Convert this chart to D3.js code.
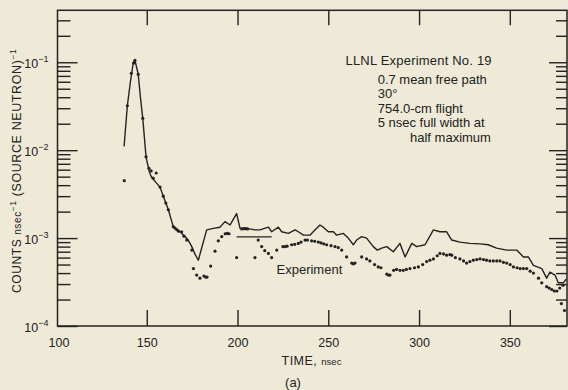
<!DOCTYPE html>
<html>
<head>
<meta charset="utf-8">
<script src="https://cdn.jsdelivr.net/npm/d3@7"></script>
<style>
  html, body { margin: 0; padding: 0; background: #efead7; }
  svg { display: block; }
  text { font-family: "Liberation Sans", Arial, Helvetica, sans-serif; fill: #222; }
</style>
</head>
<body>
<svg id="chart" width="568" height="390"></svg>
<script>
// ---------------- data ----------------
const xTicks = [150, 200, 250, 300, 350];
const yDecades = [1e-4, 1e-3, 1e-2, 1e-1];
const yDecadeExp = ["−4", "−3", "−2", "−1"];

// calculation (solid line)
const calcTime = [137.5, 139.3, 141, 142.6, 143.5, 145.3, 146.5, 147.8, 149.6, 151.4, 152.5, 155, 157.3, 159.1, 161.9, 164.6, 166.5, 168.3, 171.1, 172.8, 174.8, 176.5, 178.4, 183, 186.7, 190.3, 193.1, 195.9, 199.5, 201.4, 205, 209.6, 212.4, 217, 218.8, 222.5, 224.3, 228, 231.7, 233.5, 236.3, 239.9, 241.7, 245.4, 247.2, 250, 252.8, 254.6, 258.3, 261, 263.8, 265.6, 268.4, 271.1, 274.8, 277, 279.4, 282.2, 285.8, 289.5, 292.3, 296, 298.7, 303.3, 307.9, 311.5, 315.2, 318, 322.5, 328, 333.6, 338.1, 342.7, 348.3, 353.8, 357.5, 360.2, 363, 367.6, 370.3, 372.1, 374.9, 376.7, 379.5, 381];
const calcCounts = [0.011, 0.032, 0.06, 0.10, 0.105, 0.073, 0.04, 0.023, 0.0084, 0.0057, 0.0050, 0.0043, 0.0038, 0.0030, 0.0021, 0.00135, 0.00125, 0.00118, 0.00104, 0.00095, 0.0008, 0.00066, 0.00056, 0.00124, 0.00129, 0.00133, 0.00154, 0.00141, 0.0019, 0.00129, 0.00129, 0.00124, 0.00124, 0.00133, 0.00118, 0.00133, 0.00118, 0.00113, 0.00124, 0.00118, 0.00108, 0.00108, 0.00118, 0.00141, 0.00133, 0.00118, 0.00118, 0.00108, 0.00113, 0.001, 0.00084, 0.00095, 0.00104, 0.001, 0.0008, 0.00073, 0.00077, 0.0008, 0.0007, 0.00087, 0.00061, 0.00087, 0.0008, 0.00084, 0.00124, 0.00118, 0.00118, 0.00095, 0.0009, 0.00087, 0.00086, 0.00084, 0.00077, 0.00073, 0.00073, 0.00061, 0.00061, 0.00049, 0.00045, 0.00035, 0.00041, 0.00038, 0.00031, 0.00031, 0.00034];

// short horizontal segment
const segTime = [199.5, 218.8];
const segCounts = [0.00103, 0.00103];

// experiment (dots)
const expTime = [137.6, 139.3, 141.5, 142.8, 143.5, 145.3, 147.8, 149.6, 151.2, 152.4, 153.5, 155.2, 157.3, 159.1, 160.5, 161.9, 164.6, 165.5, 166.5, 167.5, 169.2, 170.5, 172.0, 174.8, 175.7, 177.5, 179.3, 181.5, 182.5, 183.2, 185.2, 187.6, 189.4, 191.3, 193.2, 194.3, 195.3, 199.5, 202.3, 203.5, 204.5, 205.5, 209.6, 211.4, 213.3, 215, 217, 218.8, 221.6, 225, 226.2, 227.3, 229.8, 231.5, 233.5, 235, 237.2, 238.5, 240.8, 242.5, 244.5, 246, 247.5, 249.1, 251.5, 253.7, 255.5, 257.4, 260.1, 262.9, 263.8, 264.7, 268.4, 271.1, 272.9, 275.5, 277.5, 279, 282.2, 283.2, 284, 286, 287.6, 289.5, 291.3, 293, 295, 297.5, 299.6, 302, 304.2, 306, 307.9, 310, 311.5, 313.5, 315.2, 317, 318, 320, 322.5, 324.5, 326.2, 328, 329.9, 331.8, 333.6, 335.5, 337.2, 339, 340.9, 342.8, 344.6, 346.5, 348.3, 350.2, 352, 354, 355.7, 357.5, 359.3, 361.2, 363, 365.8, 367.6, 370.3, 371.7, 373.1, 374.5, 375.9, 377.5, 378.4, 379.3, 380.1];
const expCounts = [0.0045, 0.032, 0.075, 0.098, 0.105, 0.073, 0.023, 0.0084, 0.0062, 0.0058, 0.0048, 0.0055, 0.0038, 0.0030, 0.0025, 0.0021, 0.00135, 0.0013, 0.00125, 0.0012, 0.00118, 0.00105, 0.00095, 0.00073, 0.00045, 0.00038, 0.00035, 0.00037, 0.00036, 0.00036, 0.00048, 0.00071, 0.00093, 0.00104, 0.00112, 0.00113, 0.00112, 0.0006, 0.00127, 0.00128, 0.00128, 0.00127, 0.0006, 0.00095, 0.0008, 0.00072, 0.00067, 0.0006, 0.00073, 0.0008, 0.0008, 0.00081, 0.00084, 0.00085, 0.00087, 0.0009, 0.00095, 0.00095, 0.00093, 0.00092, 0.0009, 0.00088, 0.00086, 0.00084, 0.00082, 0.0008, 0.00078, 0.00073, 0.00061, 0.00052, 0.00051, 0.00052, 0.00061, 0.00058, 0.00055, 0.0005, 0.00047, 0.00046, 0.00039, 0.00038, 0.00038, 0.00043, 0.00044, 0.00043, 0.00043, 0.00044, 0.00045, 0.00046, 0.00047, 0.0005, 0.00054, 0.00056, 0.00058, 0.00063, 0.00067, 0.00066, 0.00064, 0.00065, 0.00064, 0.0006, 0.00058, 0.00055, 0.00052, 0.00054, 0.00056, 0.00057, 0.00058, 0.00057, 0.00056, 0.00055, 0.00055, 0.00055, 0.00055, 0.00053, 0.00052, 0.0005, 0.00047, 0.00046, 0.00045, 0.00045, 0.00045, 0.00042, 0.0004, 0.00035, 0.00031, 0.00028, 0.00027, 0.00026, 0.00025, 0.00025, 0.00027, 0.00018, 0.00029, 0.00015];

const annoTitle = "LLNL Experiment No. 19";
const annoLines = ["0.7 mean free path", "30°", "754.0-cm flight", "5 nsec full width at"];
const annoLast = "half maximum";

// ---------------- chart ----------------
const ink = "#222";
const svg = d3.select("#chart");
svg.append("rect").attr("width", 568).attr("height", 390).attr("fill", "#efead7");

const L = 57.5, R = 567, T = 10.3, B = 326;
const x = d3.scaleLinear().domain([100, 381.5]).range([56, 567]);
const y = d3.scaleLog().domain([1e-4, 0.39]).range([B, T]);

const minors = [];
yDecades.forEach(d => { for (let k = 2; k <= 9; k++) { const v = d * k; if (v <= 0.39) minors.push(v); } });

function styleAxis(g) {
  g.select(".domain").remove();
  g.selectAll(".tick line").attr("stroke", ink).attr("stroke-width", 1.4);
  g.selectAll(".tick text").attr("fill", ink).attr("font-family", "Liberation Sans, Arial, sans-serif");
}

// bottom axis
svg.append("g").attr("transform", `translate(0,${B})`)
  .call(d3.axisBottom(x).tickValues(xTicks).tickSizeInner(-16).tickSizeOuter(0).tickPadding(12).tickFormat(d3.format("d")))
  .call(styleAxis)
  .call(g => g.selectAll(".tick text").attr("font-size", 12.5));
svg.append("text").attr("x", x(100) + 3).attr("y", 346.5).attr("text-anchor", "middle")
  .attr("font-size", 12.5).text("100");

// top axis
svg.append("g").attr("transform", `translate(0,${T})`)
  .call(d3.axisTop(x).tickValues(xTicks).tickSizeInner(-15).tickSizeOuter(0).tickFormat(""))
  .call(styleAxis);

// left axis
svg.append("g").attr("transform", `translate(${L},0)`)
  .call(d3.axisLeft(y).tickValues(yDecades).tickSizeInner(-20).tickSizeOuter(0).tickFormat(""))
  .call(styleAxis);
svg.append("g").attr("transform", `translate(${L},0)`)
  .call(d3.axisLeft(y).tickValues(minors).tickSizeInner(-13).tickSizeOuter(0).tickFormat(""))
  .call(styleAxis);

// right axis
svg.append("g").attr("transform", `translate(${R},0)`)
  .call(d3.axisRight(y).tickValues(yDecades).tickSizeInner(-18).tickSizeOuter(0).tickFormat(""))
  .call(styleAxis);
svg.append("g").attr("transform", `translate(${R},0)`)
  .call(d3.axisRight(y).tickValues(minors).tickSizeInner(-11).tickSizeOuter(0).tickFormat(""))
  .call(styleAxis);

// frame
svg.append("rect").attr("x", L).attr("y", T).attr("width", R - L).attr("height", B - T)
  .attr("fill", "none").attr("stroke", ink).attr("stroke-width", 1.5);

// y tick labels
yDecades.forEach((d, i) => {
  const t = svg.append("text").attr("x", 48.5).attr("y", y(d) + 6).attr("text-anchor", "end");
  t.append("tspan").attr("font-size", 12.5).text("10");
  t.append("tspan").attr("font-size", 9).attr("dy", -6).text(yDecadeExp[i]);
});

// axis titles
const xt = svg.append("text").attr("x", 281.5).attr("y", 364.5);
xt.append("tspan").attr("font-size", 12.5).attr("letter-spacing", 0.5).text("TIME, ");
xt.append("tspan").attr("font-size", 9.5).text("nsec");
svg.append("text").attr("x", 293).attr("y", 387).attr("text-anchor", "middle").attr("font-size", 13).text("(a)");

const yt = svg.append("text").attr("transform", "translate(20.5,293) rotate(-90)").attr("letter-spacing", 0.6);
yt.append("tspan").attr("font-size", 12).text("COUNTS ");
yt.append("tspan").attr("font-size", 10).text("nsec");
yt.append("tspan").attr("font-size", 8.5).attr("dy", -5).text("−1");
yt.append("tspan").attr("font-size", 12.5).attr("dy", 5).text(" (SOURCE NEUTRON)");
yt.append("tspan").attr("font-size", 8.5).attr("dy", -5).text("−1");

// data
const calc = calcTime.map((t, i) => [t, calcCounts[i]]);
const seg = segTime.map((t, i) => [t, segCounts[i]]);
const exp = expTime.map((t, i) => [t, expCounts[i]]);
const line = d3.line().x(d => x(d[0])).y(d => y(d[1]));

svg.append("path").datum(calc).attr("d", line).attr("fill", "none")
  .attr("stroke", ink).attr("stroke-width", 1.4).attr("stroke-linejoin", "round");
svg.append("path").datum(seg).attr("d", line).attr("fill", "none")
  .attr("stroke", ink).attr("stroke-width", 1.3);
svg.append("g").selectAll("circle").data(exp).join("circle")
  .attr("cx", d => x(d[0])).attr("cy", d => y(d[1])).attr("r", 1.6).attr("fill", ink);

// annotations
svg.append("text").attr("x", 345.5).attr("y", 64.5).attr("font-size", 13).attr("letter-spacing", 0.2).text(annoTitle);
annoLines.forEach((s, i) => {
  svg.append("text").attr("x", 377.7).attr("y", 84 + i * 14.4).attr("font-size", 13).text(s);
});
svg.append("text").attr("x", 410).attr("y", 141.5).attr("font-size", 13).text(annoLast);
svg.append("text").attr("x", 276.5).attr("y", 273.5).attr("font-size", 13).text("Experiment");
</script>
</body>
</html>
